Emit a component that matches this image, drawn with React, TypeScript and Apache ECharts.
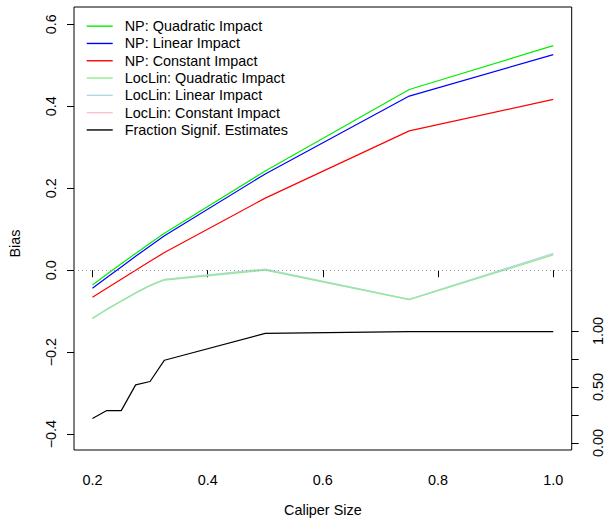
import React, { useEffect, useRef } from "react";
import * as echarts from "echarts";

const calipers = [0.2, 0.225, 0.25, 0.275, 0.3, 0.325, 0.5, 0.75, 1.0];
const npQuadratic = [-0.036, -0.01, 0.016, 0.041, 0.066, 0.09, 0.242, 0.441, 0.548];
const npLinear = [-0.044, -0.018, 0.008, 0.034, 0.059, 0.084, 0.235, 0.425, 0.526];
const npConstant = [-0.066, -0.044, -0.022, 0.0, 0.022, 0.043, 0.176, 0.34, 0.417];
const llQuadratic = [-0.118, -0.096, -0.076, -0.056, -0.038, -0.024, 0.0, -0.072, 0.037];
const llLinear = [-0.117, -0.095, -0.075, -0.055, -0.037, -0.022, 0.003, -0.071, 0.041];
const llConstant = [-0.117, -0.095, -0.075, -0.055, -0.037, -0.023, 0.001, -0.071, 0.039];
const fractionSignif = [0.22, 0.29, 0.29, 0.52, 0.55, 0.74, 0.98, 0.995, 0.995];

const xTicks = [0.2, 0.4, 0.6, 0.8, 1.0];
const yTicks = [-0.4, -0.2, 0, 0.2, 0.4, 0.6];
const fracTicks = [0, 0.25, 0.5, 0.75, 1.0];
const fracLabels = [0, 0.5, 1.0];

const FONT = "Liberation Sans, Arial, Helvetica, sans-serif";
const FS = 14.4;

const pair = (ys: number[]) => calipers.map((x, i) => [x, ys[i]]);

export default function App() {
  const ref = useRef<HTMLDivElement>(null);
  useEffect(() => {
    if (!ref.current) return;
    const chart = echarts.init(ref.current, undefined, { renderer: "svg" });
    const line = (name: string, data: number[], color: string, yAxisIndex = 0, extra: any = {}) => ({
      name,
      type: "line",
      data: pair(data),
      yAxisIndex,
      symbol: "none",
      showSymbol: false,
      lineStyle: { color, width: 1.2 },
      itemStyle: { color },
      ...extra,
    });
    chart.setOption({
      animation: false,
      textStyle: { fontFamily: FONT },
      grid: {
        left: 72.7,
        top: 7,
        right: 33.3,
        bottom: 69,
        show: true,
        borderColor: "#000",
        borderWidth: 1,
        backgroundColor: "transparent",
      },
      legend: {
        orient: "vertical",
        left: 86.7,
        top: 17.5,
        padding: 0,
        icon: "rect",
        itemWidth: 26,
        itemHeight: 1.4,
        itemGap: 0,
        selectedMode: false,
        textStyle: {
          fontSize: FS,
          lineHeight: 17.3,
          color: "#000",
          fontFamily: FONT,
          padding: [0, 0, 0, 7],
        },
        data: [
          "NP: Quadratic Impact",
          "NP: Linear Impact",
          "NP: Constant Impact",
          "LocLin: Quadratic Impact",
          "LocLin: Linear Impact",
          "LocLin: Constant Impact",
          "Fraction Signif. Estimates",
        ],
      },
      xAxis: {
        type: "value",
        min: 0.168,
        max: 1.032,
        name: "Caliper Size",
        nameLocation: "middle",
        nameGap: 53,
        nameTextStyle: { fontSize: FS, color: "#000", fontFamily: FONT },
        axisLine: { show: false },
        splitLine: { show: false },
        axisTick: { show: true, length: 7, customValues: xTicks, lineStyle: { color: "#000" } },
        axisLabel: {
          customValues: xTicks,
          margin: 23,
          fontSize: FS,
          color: "#000",
          fontFamily: FONT,
          formatter: (v: number) => v.toFixed(1),
        },
      },
      yAxis: [
        {
          type: "value",
          min: -0.4388,
          max: 0.6424,
          name: "Bias",
          nameLocation: "middle",
          nameGap: 52,
          nameTextStyle: { fontSize: FS, color: "#000", fontFamily: FONT, padding: [0, 30, 0, 0] },
          axisLine: { show: false },
          splitLine: { show: false },
          axisTick: { show: true, length: 7, customValues: yTicks, lineStyle: { color: "#000" } },
          axisLabel: {
            customValues: yTicks,
            rotate: 90,
            margin: 16,
            fontSize: FS,
            color: "#000",
            fontFamily: FONT,
            formatter: (v: number) =>
              Math.abs(v) < 1e-9 ? "0.0" : (v < 0 ? "\u2212" : "") + Math.abs(v).toFixed(1),
          },
        },
        {
          type: "value",
          position: "right",
          min: -0.0621,
          max: 3.8953,
          axisLine: { show: false },
          splitLine: { show: false },
          axisTick: { show: true, length: 7, customValues: fracTicks, lineStyle: { color: "#000" } },
          axisLabel: {
            customValues: fracLabels,
            rotate: 90,
            margin: 19,
            fontSize: FS,
            color: "#000",
            fontFamily: FONT,
            formatter: (v: number) => v.toFixed(2),
          },
        },
      ],
      series: [
        line("NP: Quadratic Impact", npQuadratic, "#00ee00", 0, {
          markLine: {
            silent: true,
            symbol: "none",
            label: { show: false },
            lineStyle: { color: "#999", type: [1, 3], width: 1 },
            data: [{ yAxis: 0 }],
          },
        }),
        line("NP: Linear Impact", npLinear, "#0000ff"),
        line("NP: Constant Impact", npConstant, "#ff0000"),
        line("LocLin: Constant Impact", llConstant, "#ffc0cb"),
        line("LocLin: Linear Impact", llLinear, "#add8e6"),
        line("LocLin: Quadratic Impact", llQuadratic, "#90ee90"),
        line("Fraction Signif. Estimates", fractionSignif, "#000000", 1),
      ],
    });
    return () => chart.dispose();
  }, []);
  return (
    <div
      ref={ref}
      style={{ position: "absolute", left: 0, top: 0, width: 605, height: 522, background: "#fff" }}
    />
  );
}
